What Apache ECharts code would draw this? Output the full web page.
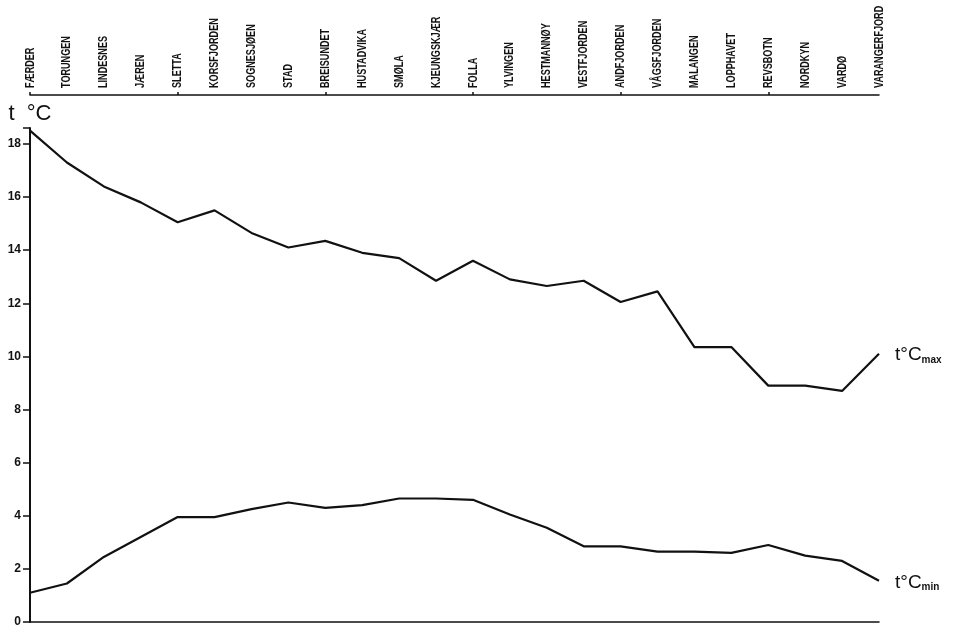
<!DOCTYPE html>
<html>
<head>
<meta charset="utf-8">
<script src="https://cdn.jsdelivr.net/npm/echarts@6/dist/echarts.min.js"></script>
<style>
  html, body { margin: 0; padding: 0; background: #fff; }
  #chart { width: 971px; height: 627px; }
</style>
</head>
<body>
<div id="chart"></div>
<script>
// Coastal stations, south to north
const stations = [
  'FÆRDER', 'TORUNGEN', 'LINDESNES', 'JÆREN', 'SLETTA', 'KORSFJORDEN',
  'SOGNESJØEN', 'STAD', 'BREISUNDET', 'HUSTADVIKA', 'SMØLA', 'KJEUNGSKJÆR',
  'FOLLA', 'YLVINGEN', 'HESTMANNØY', 'VESTFJORDEN', 'ANDFJORDEN', 'VÅGSFJORDEN',
  'MALANGEN', 'LOPPHAVET', 'REVSBOTN', 'NORDKYN', 'VARDØ', 'VARANGERFJORD'
];

// Maximum temperature, °C
const tMax = [
  18.5, 17.3, 16.4, 15.8, 15.05, 15.5, 14.65, 14.1, 14.35, 13.9, 13.7, 12.85,
  13.6, 12.9, 12.65, 12.85, 12.05, 12.45, 10.35, 10.35, 8.9, 8.9, 8.7, 10.1
];

// Minimum temperature, °C
const tMin = [
  1.1, 1.45, 2.45, 3.2, 3.95, 3.95, 4.25, 4.5, 4.3, 4.4, 4.65, 4.65,
  4.6, 4.05, 3.55, 2.85, 2.85, 2.65, 2.65, 2.6, 2.9, 2.5, 2.3, 1.55
];

// Temperature ticks
const yTicks = [0, 2, 4, 6, 8, 10, 12, 14, 16, 18];

const chart = echarts.init(document.getElementById('chart'), null, { renderer: 'canvas' });

const ink = '#111';
const sans = "'Liberation Sans', Arial, sans-serif";
const TOP_AXIS_OFFSET = 33;
const GRID_TOP = 128;

function endRich(sub) {
  return {
    show: true,
    distance: 16,
    formatter: '{t|t°C}{s|' + sub + '}',
    rich: {
      t: { fontSize: 19, fontFamily: sans, color: ink, verticalAlign: 'bottom', lineHeight: 22 },
      s: { fontSize: 10, fontWeight: 'bold', fontFamily: sans, color: ink, verticalAlign: 'bottom', lineHeight: 10, padding: [12, 0, 0, 0] }
    }
  };
}

chart.setOption({
  animation: false,
  backgroundColor: '#fff',
  grid: { left: 30, right: 92, top: GRID_TOP, bottom: 5, outerBoundsMode: 'none', containLabel: false },
  xAxis: [{
    type: 'category',
    data: stations,
    position: 'top',
    offset: TOP_AXIS_OFFSET,
    boundaryGap: false,
    axisLine: { show: true, onZero: false, lineStyle: { color: ink, width: 1.5 } },
    axisTick: { show: true, alignWithLabel: true, length: 3, lineStyle: { color: ink, width: 1.5 } },
    // station names are drawn below as condensed vertical text
    axisLabel: { show: false },
    splitLine: { show: false }
  }, {
    type: 'category',
    data: stations,
    position: 'bottom',
    boundaryGap: false,
    axisLine: { show: true, onZero: false, lineStyle: { color: ink, width: 1.5 } },
    axisTick: { show: false },
    axisLabel: { show: false },
    splitLine: { show: false }
  }],
  yAxis: {
    type: 'value',
    min: 0,
    max: 18.6,
    interval: 2,
    name: 't  °C',
    nameLocation: 'end',
    nameGap: 3,
    nameTextStyle: { color: ink, fontSize: 22, fontFamily: sans, align: 'center' },
    axisLine: { show: true, lineStyle: { color: ink, width: 2 } },
    axisTick: { show: true, length: 7, lineStyle: { color: ink, width: 1.5 } },
    axisLabel: {
      color: ink,
      fontSize: 12,
      fontWeight: 'bold',
      fontFamily: sans,
      margin: 9,
      formatter: v => (yTicks.indexOf(v) >= 0 ? String(v) : '')
    },
    splitLine: { show: false }
  },
  series: [{
    name: 'tmax',
    type: 'line',
    data: tMax,
    symbol: 'none',
    lineStyle: { color: ink, width: 2.2 },
    endLabel: endRich('max')
  }, {
    name: 'tmin',
    type: 'line',
    data: tMin,
    symbol: 'none',
    lineStyle: { color: ink, width: 2.2 },
    endLabel: endRich('min')
  }]
});

// Vertical, horizontally condensed station names above the top axis
const labelBase = GRID_TOP - TOP_AXIS_OFFSET - 7;
const stationLabels = stations.map((name, i) => {
  const x = chart.convertToPixel({ xAxisIndex: 0 }, i);
  return {
    type: 'text',
    x: x,
    y: labelBase,
    rotation: Math.PI / 2,
    scaleX: 0.7,
    style: {
      text: name,
      font: "bold 13px " + sans,
      fill: ink,
      align: 'left',
      verticalAlign: 'middle'
    },
    silent: true
  };
});
chart.setOption({ graphic: stationLabels });
</script>
</body>
</html>
